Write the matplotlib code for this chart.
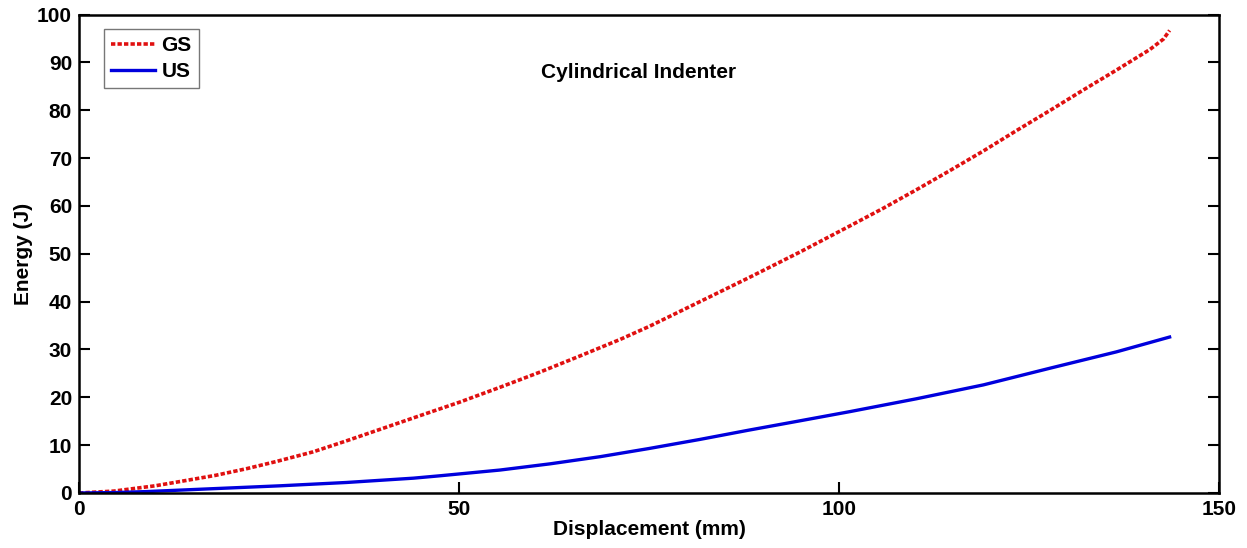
import matplotlib
matplotlib.use("Agg")
import matplotlib.pyplot as plt

plt.rcParams['font.family'] = ['Liberation Sans', 'DejaVu Sans']
plt.rcParams['font.weight'] = 'bold'

gs_x = [0, 4.6, 10, 13.3, 18, 22.1, 26, 30.8, 35, 39.6, 44, 50.1, 55.4, 60.7, 66, 71.2, 75,
        81.7, 88, 94.9, 101.4, 105.8, 110.2, 114.6, 119.0, 123.4, 127.8, 132.1, 136.5,
        140.9, 142.7, 143.5]
gs_y = [0, 0.4, 1.5, 2.4, 3.7, 5.1, 6.6, 8.6, 10.8, 13.3, 15.7, 19.0, 22.1, 25.3, 28.7, 32.1, 34.8,
        40.0, 44.9, 50.4, 55.8, 59.5, 63.4, 67.4, 71.5, 75.8, 80.0, 84.2, 88.4,
        92.7, 94.9, 96.7]

us_x = [0, 5, 8.9, 17.6, 26.4, 35.2, 44.0, 47.5, 55.4, 62, 68.6, 75, 81.7, 88, 94.9,
        101.4, 110.2, 119.0, 127.8, 136.5, 143.5]
us_y = [0, 0.1, 0.3, 0.9, 1.5, 2.2, 3.1, 3.6, 4.8, 6.1, 7.6, 9.3, 11.2, 13.1, 15.1,
        17.0, 19.7, 22.6, 26.1, 29.5, 32.6]

x_ticks = [0, 50, 100, 150]
y_ticks = [0, 10, 20, 30, 40, 50, 60, 70, 80, 90, 100]

fig = plt.figure(figsize=(12.47, 5.48), dpi=100)
ax = fig.add_axes([79/1247, 1 - 493/548, 1140/1247, (493 - 14.6)/548])

ax.plot(gs_x, gs_y, color='#e01010', linestyle=(0, (1.2, 0.6)), linewidth=2.6, label='GS')
ax.plot(us_x, us_y, color='#0000dd', linestyle='-', linewidth=2.4, label='US')

ax.set_xlim(0, 150)
ax.set_ylim(0, 100)
ax.set_xticks(x_ticks)
ax.set_yticks(y_ticks)
ax.tick_params(direction='in', length=8, width=1.5, labelsize=15, top=False)
ax.tick_params(axis='y', right=True, pad=5)
ax.tick_params(axis='x', pad=5)
for s in ax.spines.values():
    s.set_linewidth(1.8)

ax.set_xlabel('Displacement (mm)', fontsize=15, fontweight='bold', labelpad=1)
ax.set_ylabel('Energy (J)', fontsize=15, fontweight='bold', labelpad=3)
ax.text(73.6, 87.8, 'Cylindrical Indenter', fontsize=15, fontweight='bold',
        ha='center', va='center')

leg = ax.legend(loc='upper left', bbox_to_anchor=(25/1140, 1 - 14/478.4), fontsize=15,
                frameon=True, fancybox=False, edgecolor='#555555', handlelength=2.1,
                borderpad=0.35, labelspacing=0.35, handletextpad=0.3, borderaxespad=0)
leg.get_frame().set_linewidth(1.0)

fig.savefig('out.png', dpi=100)
